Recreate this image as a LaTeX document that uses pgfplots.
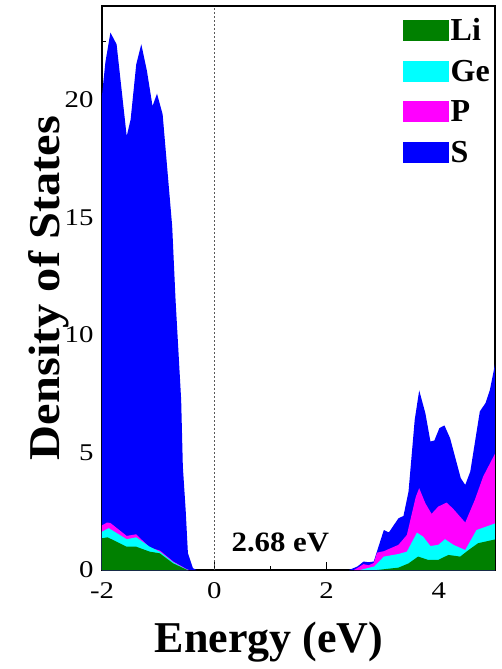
\documentclass[border=0pt]{standalone}
\usepackage{fontspec}
\setmainfont{Liberation Serif}
\newfontfamily\tickfont{Liberation Serif}[FakeStretch=1.2]
\newfontfamily\stretchfont{Liberation Serif}[FakeStretch=1.1]
\usepackage{pgfplots}
\pgfplotsset{compat=1.18}
\definecolor{cLi}{RGB}{0,128,0}
\definecolor{cGe}{RGB}{0,255,255}
\definecolor{cP}{RGB}{255,0,255}
\definecolor{cS}{RGB}{0,0,255}
\begin{document}
\begin{tikzpicture}
\begin{axis}[
  at={(0,0)}, anchor=south west,
  scale only axis, width=393pt, height=564pt,
  xmin=-2, xmax=5, ymin=0, ymax=24,
  xtick={-2,0,2,4}, minor xtick={-1,1,3},
  ytick={0,5,10,15,20}, minor ytick={2.5,7.5,12.5,17.5,22.5},
  tick align=inside, xtick pos=bottom, ytick pos=left,
  major tick length=8pt, minor tick length=4pt,
  every tick/.style={black, line width=1pt},
  axis line style={line width=1.3pt},
  /pgf/number format/assume math mode=true,
  tick label style={font=\tickfont\fontsize{24}{24}\selectfont},
  xticklabel style={yshift=-9pt},
  yticklabel style={xshift=-5pt},
  xlabel={Energy (eV)}, ylabel={Density of States},
  xlabel style={at={(axis description cs:0.425,-0.147)}, anchor=base, font=\bfseries\fontsize{44}{44}\selectfont},
  ylabel style={at={(axis description cs:-0.1069,0.5)}, anchor=base, font=\stretchfont\bfseries\fontsize{44}{44}\selectfont},
  legend style={at={(1,1)}, anchor=north east, draw=none, fill=none,
    font=\bfseries\fontsize{32}{32}\selectfont, inner xsep=3pt, inner ysep=10pt,
    row sep=14pt, cells={anchor=west}},
  legend image code/.code={\fill[#1] (0pt,-10.5pt) rectangle (46pt,10.5pt);},
]
\addlegendimage{fill=cLi, draw=none}\addlegendentry{Li}
\addlegendimage{fill=cGe, draw=none}\addlegendentry{Ge}
\addlegendimage{fill=cP, draw=none}\addlegendentry{P}
\addlegendimage{fill=cS, draw=none}\addlegendentry{S}

% S (total) left
\addplot[fill=cS, draw=none, forget plot] coordinates {
(-2,20.2) (-1.94,21.6) (-1.85,22.87) (-1.74,22.37) (-1.56,18.46) (-1.49,19.17)
(-1.39,21.52) (-1.30,22.37) (-1.20,21.24) (-1.10,19.74) (-1.02,20.27) (-0.92,19.39)
(-0.75,14.63) (-0.69,11.5) (-0.59,7.24) (-0.56,4.4) (-0.51,2.56) (-0.47,0.72)
(-0.38,0.08) (-0.32,0)} \closedcycle;
% S (total) right
\addplot[fill=cS, draw=none, forget plot] coordinates {
(2.40,0) (2.55,0.15) (2.66,0.36) (2.75,0.33) (2.84,0.36) (3.02,1.70) (3.11,1.6)
(3.28,2.2) (3.37,2.3) (3.46,3.34) (3.57,6.39) (3.65,7.64) (3.76,6.67) (3.85,5.47)
(3.92,5.51) (4.01,6.04) (4.10,6.15) (4.20,5.61) (4.39,3.91) (4.47,3.62) (4.56,4.19)
(4.73,6.75) (4.83,7.1) (4.91,7.67) (5.0,8.75)} \closedcycle;
% P left
\addplot[fill=cP, draw=none, forget plot] coordinates {
(-2,1.90) (-1.91,2.02) (-1.85,2.0) (-1.56,1.45) (-1.39,1.52) (-1.15,0.95)
(-0.97,0.83) (-0.73,0.36) (-0.5,0.05) (-0.45,0)} \closedcycle;
% P right
\addplot[fill=cP, draw=none, forget plot] coordinates {
(2.49,0) (2.66,0.25) (2.75,0.2) (2.84,0.3) (2.90,0.74) (3.02,0.8) (3.28,1.07)
(3.43,1.49) (3.59,3.12) (3.65,3.48) (3.76,2.84) (3.87,2.39) (3.99,2.70) (4.14,2.87)
(4.26,2.59) (4.47,2.02) (4.64,2.98) (4.79,3.98) (5.0,4.95)} \closedcycle;
% Ge left
\addplot[fill=cGe, draw=none, forget plot] coordinates {
(-2,1.63) (-1.88,1.78) (-1.56,1.31) (-1.39,1.39) (-1.15,0.99) (-0.97,0.78)
(-0.73,0.33) (-0.5,0.03) (-0.47,0)} \closedcycle;
% Ge right
\addplot[fill=cGe, draw=none, forget plot] coordinates {
(2.6,0) (2.85,0.15) (3.02,0.57) (3.28,0.68) (3.43,0.78) (3.61,1.59) (3.72,1.42)
(3.85,1.02) (3.99,1.07) (4.11,1.31) (4.26,1.07) (4.47,0.85) (4.67,1.70) (5.0,1.98)} \closedcycle;
% Li left
\addplot[fill=cLi, draw=none, forget plot] coordinates {
(-2,1.35) (-1.9,1.39) (-1.56,0.99) (-1.39,0.99) (-1.15,0.78) (-0.97,0.71)
(-0.73,0.28) (-0.5,0.02) (-0.47,0)} \closedcycle;
% Li right
\addplot[fill=cLi, draw=none, forget plot] coordinates {
(2.9,0) (3.28,0.1) (3.46,0.28) (3.63,0.57) (3.81,0.43) (3.99,0.43) (4.17,0.64)
(4.38,0.57) (4.53,0.85) (4.70,1.14) (5.0,1.30)} \closedcycle;
% Fermi level
\addplot[gray!70!black, line width=0.6pt, dash pattern=on 2pt off 2pt, forget plot] coordinates {(0,0) (0,24)};

\node[anchor=base west, font=\stretchfont\bfseries\fontsize{28}{28}\selectfont, inner sep=0pt] at (axis cs:0.305,0.78) {2.68 eV};
\end{axis}
\pgfresetboundingbox
\useasboundingbox (-102pt,-99pt) rectangle (399pt,570pt);
\end{tikzpicture}
\end{document}
